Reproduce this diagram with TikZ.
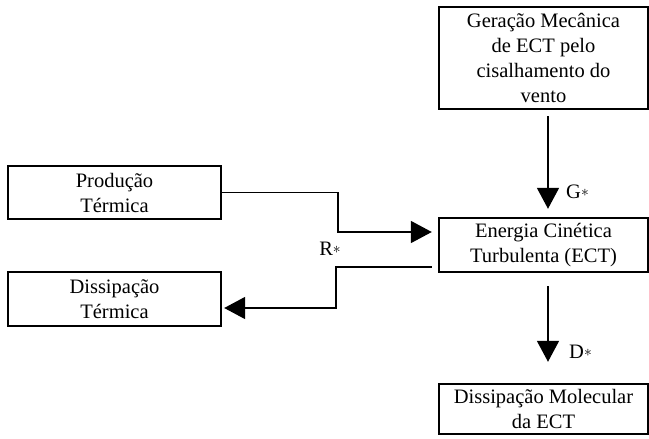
\documentclass[tikz,border=0pt]{standalone}
\usepackage{fontspec}
\setmainfont{Liberation Serif}
\usetikzlibrary{arrows.meta}
\begin{document}
\begin{tikzpicture}[x=1pt,y=-1pt,
  box/.style={draw, line width=2.4pt, inner sep=0pt, align=center,
    font=\fontsize{20.5}{25}\selectfont},
  conn/.style={line width=1.7pt},
  arr/.style={conn, -{Triangle[length=21pt,width=22pt]}},
  lbl/.style={font=\fontsize{20.5}{25}\selectfont, inner sep=0pt}]
\useasboundingbox (0,0) rectangle (649,439);
\newcommand{\sast}{\raisebox{2pt}{\scalebox{0.75}{$\ast$}}}
\node[box, minimum width=209pt, minimum height=102pt] (gen) at (543.5,58)
  {Geração Mecânica\\de ECT pelo\\cisalhamento do\\vento};
\node[box, minimum width=209pt, minimum height=54pt] (ect) at (543.5,245)
  {Energia Cinética\\Turbulenta (ECT)};
\node[box, minimum width=209pt, minimum height=50pt] (dm) at (543.5,409)
  {Dissipação Molecular\\da ECT};
\node[box, minimum width=213pt, minimum height=53pt] (prod) at (114.5,192.5)
  {Produção\\Térmica};
\node[box, minimum width=213pt, minimum height=54pt] (dt) at (114.5,299)
  {Dissipação\\Térmica};
% vertical arrows
\draw[arr, shorten <=6pt, shorten >=8pt] ([xshift=4.5pt]gen.south) -- ([xshift=4.5pt]ect.north);
\draw[arr, shorten <=13pt, shorten >=21pt] ([xshift=4.5pt]ect.south) -- ([xshift=4.5pt]dm.north);
% side connectors
\draw[arr, shorten >=6pt] (prod.east) -- ++(116,0) |- ([yshift=13pt]ect.west);
\draw[arr, shorten <=6pt, shorten >=2pt] ([yshift=-22pt]ect.west) -- ++(-102,0) |- ([yshift=-9pt]dt.east);
% labels
\node[lbl, anchor=west] (g) at (566,192) {G\sast};
\node[lbl, anchor=west] (d) at (569,352) {D\sast};
\node[lbl] (r) at (330,249) {R\sast};
\end{tikzpicture}
\end{document}
